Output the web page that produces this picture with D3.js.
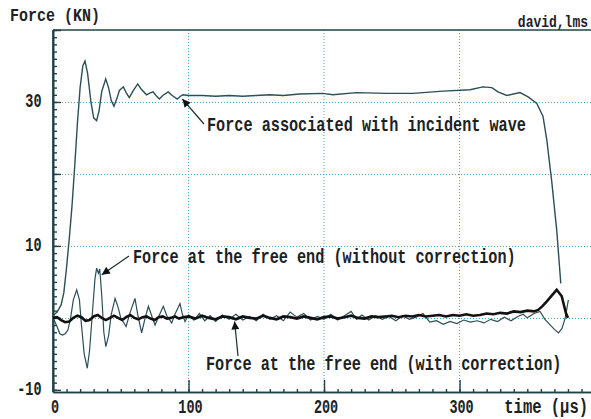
<!DOCTYPE html>
<html><head><meta charset="utf-8">
<script src="https://cdn.jsdelivr.net/npm/d3@7"></script>
<style>body{margin:0;background:#fff}svg{display:block}</style>
</head><body><svg id="c" width="591" height="419"></svg>
<script>
// ---------- data (time in µs, force in kN) ----------
const incidentT = [0,3,6,8,10,12,14,16,18,20,22,23.6,25.5,28,30,32.2,34,36,38.9,41,43,45,47,49,51.9,54,56.3,59,62.5,65,69,71,73.8,76,78.5,81,85,88,91.7,94,96,100,110,120,130,140,150,160,170,182,199,206.6,224,246.3,265.7,287.8,307.7,317.3,323.8,328.4,334.8,344.6,350.6,357,361.6,364.4,368,371.7,374.7];
const incidentF = [0.3,0.8,1.8,3.5,7,11,15.5,21,27,32,35,35.7,34,30,27.8,27.4,28.8,31.5,33.2,32,30.2,29.4,30.4,31.6,32.1,31.3,30.6,31.5,32.5,31.8,31,31.2,31.4,30.9,30.4,30.9,31.4,30.9,30.4,30.8,31,30.9,30.9,30.8,30.9,30.8,30.9,31.0,30.9,31.1,31.2,31.0,31.3,31.2,31.2,31.5,31.7,32.1,32.0,31.4,30.9,31.3,30.7,29.8,28,24.7,19,12.2,4.8];

const rawT = [0,3,5,7,9,11,13,15,17.5,19.5,21,23,25.3,27,29,31,32.2,33.5,34.5,36,37.5,39,41,43,45.8,48,50,53.9,57,60.5,62.5,65.4,68,70.4,73,75.3,78,81.4,84,87.6,90,93.7,95.5,97.4,100,104,108,112,116,120,125,130,135,140,145,150,155,160,165,170,175,180,185,190,195,200,205,210,215,220,224,228,233,238,243,248,253,258,263,268,273,278,283,288,293,298,303,308,313,318,323,328,333,338,343,347,350,355,359.4,363,367,370,373,375.5,378,380.3];
const rawF = [0,-1.2,-2.2,-2.4,-2.2,-1.7,0,2.5,3.9,2.5,-1,-5,-7,-4.5,0.5,5.5,6.9,6.2,6.8,3,-2,-4,-2.5,0.5,2.7,1.5,0,-1.2,0.8,2.7,0.5,-2.1,0,1.6,0.2,-1,0.2,1.6,0.3,-0.7,0.5,2.0,0.5,-0.5,0.4,-0.3,0.6,-0.4,0.3,-0.5,0.4,-0.2,0.5,-0.3,0.2,-0.4,0.5,-0.2,0.3,-0.4,0.8,0.1,0.6,-0.3,0.2,-0.2,0.5,-0.3,0.3,0.9,-0.2,0.4,-0.3,0.3,-0.2,0.2,-0.4,0.3,-0.2,0.1,0.6,-0.6,-0.4,-0.9,-0.5,-0.8,-0.3,-0.6,-0.4,-0.7,-0.2,-0.5,0.1,-0.4,0.2,0.5,0.0,0.6,0.9,-0.2,-1.0,-1.6,-2.1,-1.5,0,2.5];

const corrT = [0,3,6,9,12,15,18,21,24,27,30,33,36,39,42,45,48,51,54,57,60,63,66,69,72,75,78,81,84,87,90,93,96,100,105,110,115,120,125,130,135,140,145,150,155,160,165,170,175,180,185,190,195,200,205,210,215,220,225,230,235,240,245,250,255,260,265,270,275,280,285,290,295,300,305,310,315,320,325,330,335,340,345,350,355,358,361,364.4,368,371.7,375.4,378.6,380];
const corrF = [0,0.1,-0.3,-0.6,-0.5,0,0.3,0.1,-0.4,-0.3,0.2,0.4,0,-0.3,0,0.3,0,-0.3,0.1,0.4,0,-0.2,0.1,0.2,-0.1,-0.3,0.1,0.2,-0.1,0,0.2,-0.1,0.1,0.2,-0.1,0.3,0,-0.2,0.2,0.1,-0.2,0.2,0,-0.1,0.3,0,-0.2,0.2,0.1,-0.1,0.2,0,-0.2,0.1,0.2,-0.1,0.1,0.3,0,-0.1,0.2,0.1,0.2,0.3,0.1,0.3,0.2,0.4,0.2,0.3,0.4,0.2,0.4,0.3,0.5,0.3,0.4,0.6,0.5,0.7,0.6,0.9,0.8,1.0,0.9,1.1,1.6,2.3,3.1,3.9,3.0,0.6,0];

const xTickLabels = [0,100,200,300];
const yTickLabels = [-10,10,30];
const xGrid = [100,200,300];
const yGrid = [0,10,20,30];
const yLabel = "Force (KN)";
const xLabel = "time (µs)";
const credit = "david,lms";
const notes = [
  {text:"Force associated with incident wave", t:95.5, f:30.4},
  {text:"Force at the free end (without correction)", t:36, f:6.0},
  {text:"Force at the free end (with correction)", t:134, f:-0.5}
];

// ---------- drawing ----------
const svg = d3.select("#c");
const W = 591, H = 419;
const L = 53, T = 30, B = 392;
const x = d3.scaleLinear().domain([0, 397]).range([L, W]);
const y = d3.scaleLinear().domain([-10.3, 40]).range([B, T]);
const axisCol = "#1f4249", gridCol = "#4a9fcc", lineCol = "#2c4f57", textCol = "#1c2224";
const FONT = "'Liberation Mono', 'Courier New', monospace";

function txt(px, py, s, size, sy, anchor) {
  return svg.append("text")
    .attr("transform", `translate(${px},${py}) scale(1,${sy})`)
    .attr("font-family", FONT).attr("font-weight", "bold")
    .attr("font-size", size).attr("fill", textCol)
    .attr("text-anchor", anchor || "start").text(s);
}

// grid
svg.append("g").selectAll("line").data(xGrid).join("line")
  .attr("x1", d => x(d)).attr("x2", d => x(d)).attr("y1", T).attr("y2", B)
  .attr("stroke", gridCol).attr("stroke-width", 1).attr("stroke-dasharray", "1,2");
svg.append("g").selectAll("line").data(yGrid).join("line")
  .attr("x1", L).attr("x2", W).attr("y1", d => Math.round(y(d)) + 0.5).attr("y2", d => Math.round(y(d)) + 0.5)
  .attr("stroke", gridCol).attr("stroke-width", 1).attr("stroke-dasharray", "1,2");

// axes
const yMinor = d3.range(-10, 41, 1), yMajor = d3.range(-10, 41, 10);
const xMinor = d3.range(0, 397, 10), xMajor = d3.range(0, 397, 100);
function styleAxis(g) {
  g.selectAll("text").remove();
  g.selectAll("line").attr("stroke", axisCol).attr("stroke-width", 1.4);
  g.select(".domain").attr("stroke", axisCol).attr("stroke-width", 1.6);
}
svg.append("g").attr("transform", `translate(${L},0)`)
  .call(d3.axisRight(y).tickValues(yMinor).tickSize(4).tickSizeOuter(0)).call(styleAxis);
svg.append("g").attr("transform", `translate(${L},0)`)
  .call(d3.axisRight(y).tickValues(yMajor).tickSize(8).tickSizeOuter(0)).call(styleAxis);
svg.append("g").attr("transform", `translate(0,${B})`)
  .call(d3.axisBottom(x).tickValues(xMinor).tickSize(-3).tickSizeOuter(0)).call(styleAxis);
svg.append("g").attr("transform", `translate(0,${B})`)
  .call(d3.axisBottom(x).tickValues(xMajor).tickSize(-12).tickSizeOuter(0)).call(styleAxis);
svg.append("line").attr("x1", L).attr("x2", W).attr("y1", T).attr("y2", T)
  .attr("stroke", axisCol).attr("stroke-width", 1.6);
svg.append("line").attr("x1", L).attr("x2", L).attr("y1", T).attr("y2", B)
  .attr("stroke", axisCol).attr("stroke-width", 1.6);

// curves
const line = d3.line().x(d => x(d[0])).y(d => y(d[1]));
const zip = (a, b) => a.map((v, i) => [v, b[i]]);
svg.append("path").datum(zip(rawT, rawF)).attr("d", line)
  .attr("fill", "none").attr("stroke", lineCol).attr("stroke-width", 1.2);
svg.append("path").datum(zip(incidentT, incidentF)).attr("d", line)
  .attr("fill", "none").attr("stroke", lineCol).attr("stroke-width", 1.4);
svg.append("path").datum(zip(corrT, corrF)).attr("d", line)
  .attr("fill", "none").attr("stroke", "#111", "stroke-linejoin", "round").attr("stroke-width", 2.6);

// tick labels
xTickLabels.forEach(v => txt(x(v) + 2, 413, String(v), 13.5, 1.45, "middle"));
yTickLabels.forEach(v => txt(41.5, y(v) + 5, String(v), 13.5, 1.45, "end"));
txt(10, 21, yLabel, 15, 1.2, "start");
txt(588, 27, credit, 13, 1.2, "end");
txt(588, 413, xLabel, 15.5, 1.35, "end");

// annotations with arrows
svg.append("defs").append("marker").attr("id", "ah")
  .attr("viewBox", "0 0 10 10").attr("refX", 10).attr("refY", 5)
  .attr("markerWidth", 11).attr("markerHeight", 8).attr("markerUnits", "userSpaceOnUse")
  .attr("orient", "auto").append("path").attr("d", "M0,0L10,5L0,10z").attr("fill", "#111");
const noteText = [[207, 131], [133, 263], [206, 370]];
const noteTail = [[204, 124], [129, 256], [238, 356]];
notes.forEach((n, i) => {
  svg.append("line").attr("x1", noteTail[i][0]).attr("y1", noteTail[i][1])
    .attr("x2", x(n.t)).attr("y2", y(n.f))
    .attr("stroke", "#1b2b2e").attr("stroke-width", 1.2).attr("marker-end", "url(#ah)");
  txt(noteText[i][0], noteText[i][1], n.text, 15.2, 1.3, "start");
});
</script></body></html>
